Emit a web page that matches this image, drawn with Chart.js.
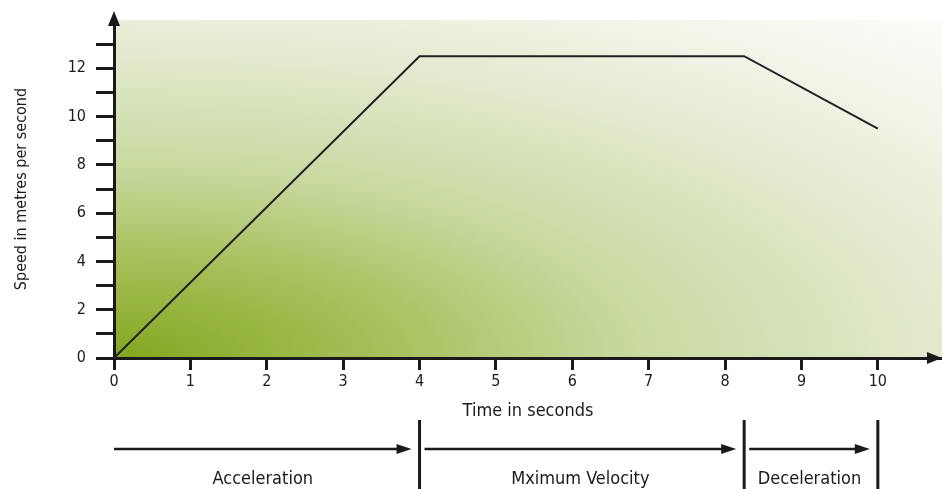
<!DOCTYPE html>
<html>
<head>
<meta charset="utf-8">
<script src="https://cdn.jsdelivr.net/npm/chart.js@4.4.1/dist/chart.umd.min.js"></script>
<style>
  html,body{margin:0;padding:0;background:#fff;}
  #wrap{width:942px;height:489px;position:relative;}
</style>
</head>
<body>
<div id="wrap"><canvas id="c"></canvas></div>
<script>
// speed / time profile
const timeSec  = [0, 4, 8.25, 10];
const speedMps = [0, 12.5, 12.5, 9.5];

// phases shown under the x axis
const phaseNames = ['Acceleration', 'Mximum Velocity', 'Deceleration'];
const phaseStart = [0, 4, 8.25];
const phaseEnd   = [4, 8.25, 10];

const X_MAX = 10.84, Y_MAX = 14;
const FONT = "'Liberation Sans Narrow','DejaVu Sans Condensed',sans-serif";
const INK = '#1a1a1a';

// green wash behind the plot, dark in the lower-left corner (elliptical)
const bgWash = {
  id: 'bgWash',
  beforeDraw(chart){
    const {ctx, chartArea:a} = chart;
    const w = a.right-a.left, h = a.bottom-a.top, sx = 1300/480;
    ctx.save();
    ctx.translate(a.left, a.bottom);
    ctx.scale(sx, 1);
    const g = ctx.createRadialGradient(0, 0, 0, 0, 0, 480);
    g.addColorStop(0, '#84a620');
    g.addColorStop(0.2, '#a5bf58');
    g.addColorStop(0.4, '#c8d9a0');
    g.addColorStop(0.6, '#dfe7c8');
    g.addColorStop(0.78, '#f0f4e6');
    g.addColorStop(1, '#ffffff');
    ctx.fillStyle = g;
    ctx.fillRect(0, -h, w/sx, h);
    ctx.restore();
  }
};

function arrowHead(ctx, x, y, dir){
  ctx.beginPath();
  if(dir==='up'){ ctx.moveTo(x, y); ctx.lineTo(x-6, y+15); ctx.lineTo(x+6, y+15); }
  else { ctx.moveTo(x, y); ctx.lineTo(x-15, y-6); ctx.lineTo(x-15, y+6); }
  ctx.closePath(); ctx.fill();
}

// axis arrows + phase markers below the time axis
const extras = {
  id: 'extras',
  afterDraw(chart){
    const {ctx, chartArea:a, scales:{x}} = chart;
    ctx.save();
    ctx.fillStyle = INK; ctx.strokeStyle = INK;

    ctx.lineWidth = 3;
    ctx.beginPath(); ctx.moveTo(a.left, a.top); ctx.lineTo(a.left, 22); ctx.stroke();
    arrowHead(ctx, a.left, 11, 'up');
    arrowHead(ctx, chart.width, a.bottom, 'right');

    const yArrow = a.bottom + 91, yBarTop = a.bottom + 62, yLbl = a.bottom + 121;
    phaseNames.forEach((name, i)=>{
      const xs = x.getPixelForValue(phaseStart[i]);
      const xe = x.getPixelForValue(phaseEnd[i]);
      const x0 = i===0 ? xs : xs+5, x1 = xe-8;
      ctx.lineWidth = 2.5;
      ctx.beginPath(); ctx.moveTo(x0, yArrow); ctx.lineTo(x1-12, yArrow); ctx.stroke();
      ctx.beginPath(); ctx.moveTo(x1, yArrow); ctx.lineTo(x1-15, yArrow-5); ctx.lineTo(x1-15, yArrow+5);
      ctx.closePath(); ctx.fill();
      ctx.lineWidth = 3;
      ctx.beginPath(); ctx.moveTo(xe, yBarTop); ctx.lineTo(xe, chart.height); ctx.stroke();
      ctx.font = '18px ' + FONT; ctx.textAlign = 'center'; ctx.textBaseline = 'middle';
      ctx.fillText(name, (x0+x1)/2, yLbl);
    });
    ctx.restore();
  }
};

new Chart(document.getElementById('c'), {
  type: 'line',
  data: {
    datasets: [{
      data: timeSec.map((t,i)=>({x:t, y:speedMps[i]})),
      borderColor: '#222', borderWidth: 2, pointRadius: 0, tension: 0, fill: false
    }]
  },
  options: {
    responsive: true, maintainAspectRatio: false, animation: false,
    layout: {padding: {top: 20, right: 0, bottom: 67, left: 0}},
    plugins: {legend: {display: false}, tooltip: {enabled: false}},
    scales: {
      x: {
        type: 'linear', min: 0, max: X_MAX,
        afterFit: s => { s.height = 64; },
        border: {color: INK, width: 3},
        grid: {drawOnChartArea: false, drawTicks: true, tickLength: 12, tickWidth: 3, tickColor: INK},
        ticks: {stepSize: 1, includeBounds: false, padding: 2, color: INK,
                font: {family: FONT, size: 16}},
        title: {display: true, text: 'Time in seconds', color: INK,
                font: {family: FONT, size: 18}, padding: {top: 0, bottom: 0}}
      },
      y: {
        min: 0, max: Y_MAX,
        afterFit: s => { s.width = 114; },
        border: {color: INK, width: 3},
        grid: {drawOnChartArea: false, drawTicks: true, tickLength: 18, tickWidth: 3,
               tickColor: c => c.tick && c.tick.value === Y_MAX ? 'rgba(0,0,0,0)' : INK},
        ticks: {stepSize: 1, padding: 10, color: INK, font: {family: FONT, size: 16},
                callback: v => (v % 2 === 0 && v < Y_MAX) ? v : ''},
        title: {display: true, text: 'Speed in metres per second', color: INK,
                font: {family: FONT, size: 16}, padding: {top: 12, bottom: 0}}
      }
    }
  },
  plugins: [bgWash, extras]
});
</script>
</body>
</html>
